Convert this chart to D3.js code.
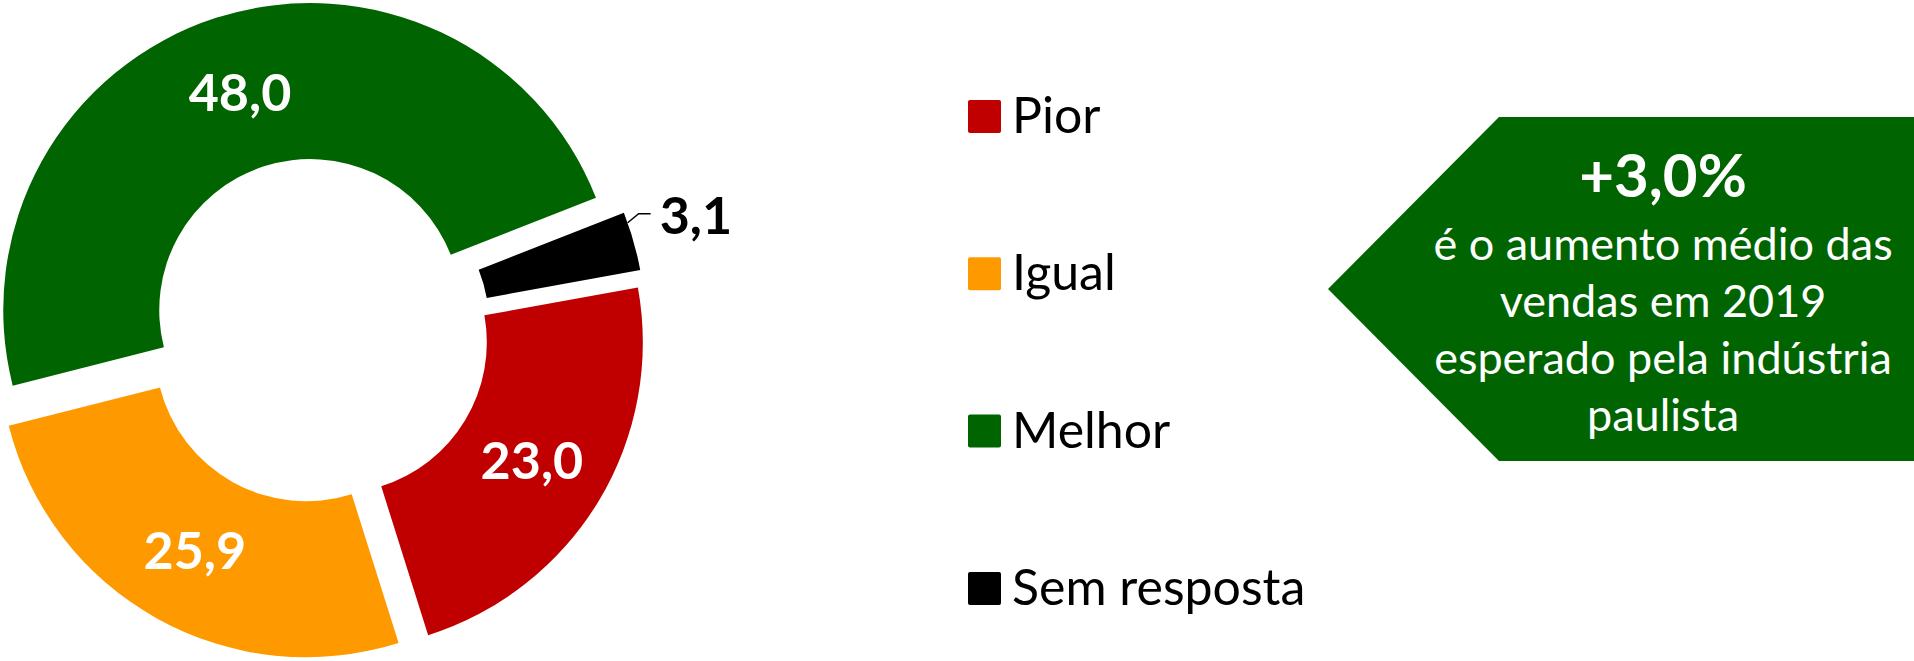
<!DOCTYPE html>
<html>
<head>
<meta charset="utf-8">
<script src="https://cdn.jsdelivr.net/npm/d3@7"></script>
<style>
body { margin: 0; background: #fff; }
text { font-family: Lato, "Open Sans", sans-serif; }
</style>
</head>
<body>
<div id="chart"></div>
<script>
var categories = ["Pior", "Igual", "Melhor", "Sem resposta"];
var values = [23.0, 25.9, 48.0, 3.1];
var colors = ["#c00000", "#ff9900", "#006400", "#000000"];
var labels = ["23,0", "25,9", "48,0", "3,1"];
var calloutTitle = "+3,0%";
var calloutLines = ["é o aumento médio das", "vendas em 2019", "esperado pela indústria", "paulista"];

var width = 1914, height = 661;
var cx = 317, cy = 331;
var outerR = 307, innerR = 151, explode = 22;
var startAngle = 79.7 * Math.PI / 180;

var svg = d3.select("#chart")
    .append("svg")
    .attr("width", width)
    .attr("height", height);

var pie = d3.pie()
    .sort(null)
    .startAngle(startAngle)
    .endAngle(startAngle + 2 * Math.PI);

var arc = d3.arc()
    .innerRadius(innerR)
    .outerRadius(outerR);

var arcs = pie(values);

function offset(d){
    var a = (d.startAngle + d.endAngle) / 2;
    return [cx + explode * Math.sin(a), cy - explode * Math.cos(a)];
}

var slices = svg.selectAll("g.slice")
    .data(arcs)
    .enter()
  .append("g")
    .attr("class", "slice")
    .attr("transform", function(d){ var o = offset(d); return "translate(" + o[0] + "," + o[1] + ")"; });

slices.append("path")
    .attr("d", arc)
    .style("fill", function(d, i){ return colors[i]; });

// labels inside the ring
slices.filter(function(d, i){ return i < 3; })
  .append("text")
    .attr("transform", function(d){ return "translate(" + arc.centroid(d) + ")"; })
    .attr("dy", "0.36em")
    .attr("text-anchor", "middle")
    .style("font-size", "52px")
    .style("font-weight", "bold")
    .style("fill", "#fff")
    .text(function(d, i){ return labels[i]; });

// small slice: label outside with a leader line
var small = arcs[3];
var o = offset(small);
var la = small.startAngle + 0.18 * (small.endAngle - small.startAngle);
var p0 = [o[0] + outerR * Math.sin(la), o[1] - outerR * Math.cos(la)];
var p1 = [p0[0] + 11, p0[1] - 9];
var p2 = [p1[0] + 12, p1[1]];
svg.append("polyline")
    .attr("points", [p0, p1, p2].join(" "))
    .style("fill", "none")
    .style("stroke", "#000")
    .style("stroke-width", 1.5);
svg.append("text")
    .attr("x", p2[0] + 9)
    .attr("y", p2[1] + 20)
    .style("font-size", "52px")
    .style("font-weight", "bold")
    .style("fill", "#000")
    .text(labels[3]);

// legend
var legend = svg.selectAll("g.legend")
    .data(categories)
    .enter()
  .append("g")
    .attr("class", "legend")
    .attr("transform", function(d, i){ return "translate(968," + (100 + i * 157.3) + ")"; });

legend.append("rect")
    .attr("width", 33)
    .attr("height", 33)
    .attr("rx", 2)
    .style("fill", function(d, i){ return colors[i]; });

legend.append("text")
    .attr("x", 44)
    .attr("y", 33)
    .style("font-size", "50px")
    .style("fill", "#000")
    .text(function(d){ return d; });

// callout arrow
var box = { left: 1499, tip: 1328, top: 117, bottom: 461 };
svg.append("polygon")
    .attr("points", [[box.tip, (box.top + box.bottom) / 2], [box.left, box.top], [width, box.top], [width, box.bottom], [box.left, box.bottom]].join(" "))
    .style("fill", "#006400");

var tx = 1663;
svg.append("text")
    .attr("x", tx)
    .attr("y", 197)
    .attr("text-anchor", "middle")
    .style("font-size", "60px")
    .style("font-weight", "bold")
    .style("fill", "#fff")
    .text(calloutTitle);

svg.selectAll("text.callout")
    .data(calloutLines)
    .enter()
  .append("text")
    .attr("class", "callout")
    .attr("x", tx)
    .attr("y", function(d, i){ return 260 + i * 57; })
    .attr("text-anchor", "middle")
    .style("font-size", "45px")
    .style("fill", "#fff")
    .text(function(d){ return d; });
</script>
</body>
</html>
